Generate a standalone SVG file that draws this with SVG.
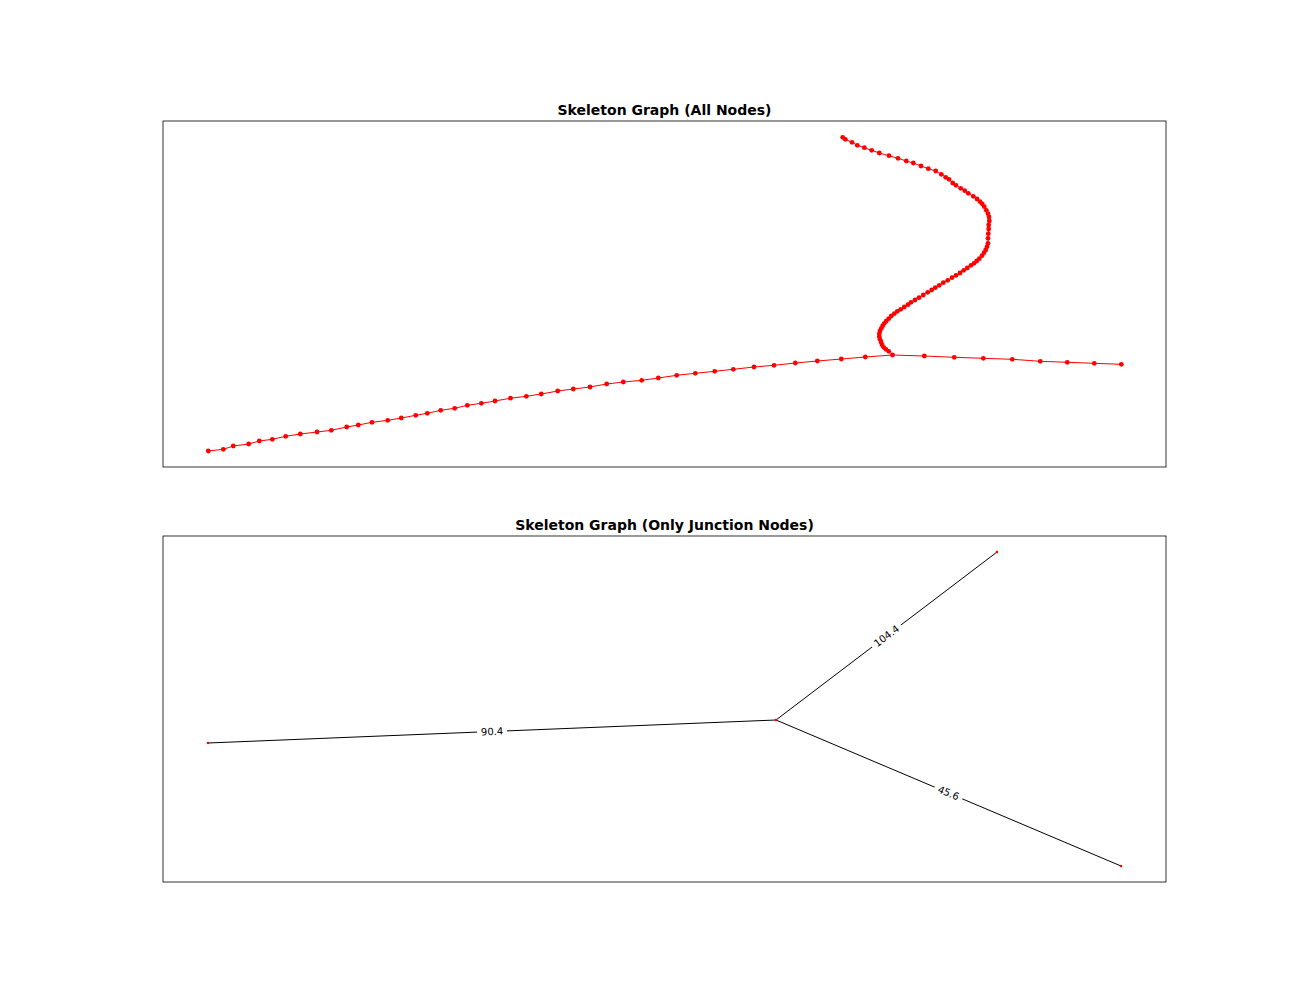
<svg xmlns="http://www.w3.org/2000/svg" width="1296" height="1008" viewBox="0 0 1296 1008">
<style>
.title{font-family:"DejaVu Sans",sans-serif;font-weight:bold;font-size:14px;text-anchor:middle;fill:#000}
.frame{fill:none;stroke:#000;stroke-width:0.8}
.redge{fill:none;stroke:#ff0000;stroke-width:1}
.bedge{fill:none;stroke:#000;stroke-width:1}
.lbl{font-family:"DejaVu Sans",sans-serif;font-size:10px;text-anchor:middle;dominant-baseline:central;fill:#000}
.lblbox{fill:#fff}
</style>
<defs>
<circle id="dot" r="2.4" fill="#ff0000"/>
<circle id="jdot" r="1.3" fill="#ff0000"/>
</defs>
<rect width="1296" height="1008" fill="#fff"/>

<g id="panel-top">
<text class="title" x="664.5" y="115">Skeleton Graph (All Nodes)</text>
<rect class="frame" x="163" y="121" width="1003" height="346"/>
<g id="edges-top">
<polyline class="redge" points="842.7,137.3 845.3,139.3 852,142.3 857.3,145.3 864.3,147.7 871.7,150.3 879.3,153 889,155.7 898,158.3 906.3,161 913.3,163 921,166 928.3,168.7 935.7,171 941.3,174.3 945.7,177.3 949,179.3 952.7,183 956,185.3 960.7,188.3 964.7,190.7 968.3,193.3 973.3,196.3 977,199 980,201.7 982.3,204 984.3,206.7 986.3,210.3 988,213.7 989,217 989.3,221 988.7,225 988.7,229 988.3,233.7 988,238.3 988,243.3 987,246.7 985.7,250 984,252.7 982,255.7 979.3,258.7 976.7,261 974,263.3 971,265.3 967.3,268 963.7,270.3 960,273 956,275.3 952,277.7 947.7,280.3 943.3,282.7 939.3,285.3 935.3,287.7 931.7,290 927.7,292.3 923.3,295 919,297.7 915,300 911,302.3 908,304.7 904.3,307 900.7,309.3 897.3,311.3 894.3,313.7 891.3,316 888.7,318.7 886.3,321 884.3,323.3 882.7,325.7 881.3,328.3 880,331 879.3,333.7 879.3,336.7 880,339.3 881,342 882,344.7 883.7,347.3 886,349.3 888.7,351.3 892.5,355"/>
<polyline class="redge" points="892.5,355 924.3,356 954.3,357.3 983.3,358.3 1012.3,359.3 1040.3,361.3 1067.3,362.3 1094.3,363.3 1121.3,364.3"/>
<polyline class="redge" points="892.5,355 865.3,357 841.3,359 817.3,361 795.3,363 774,365.3 754,367 733.3,369.3 714.7,371.3 695.3,373.3 676.7,375.3 658.3,378 641.7,380.3 623.3,382 606.7,384 590,387 573.3,389 557.7,391 541.3,394 526.3,396.3 510.5,398.2 495,401 481.3,403.3 467.3,405.3 454.7,408.3 440.7,410.3 427.3,413.3 415.7,415.3 401.3,418 387.7,420.3 372,422.3 358.3,425 346.7,427 331.3,430.3 317,432 300.3,434 285.7,436.3 272.3,439.3 259.3,441 248.7,444 233.3,446 223.3,449.3 208.3,451"/>
</g>
<g id="nodes-top">
<use href="#dot" x="842.7" y="137.3"/><use href="#dot" x="845.3" y="139.3"/><use href="#dot" x="852" y="142.3"/><use href="#dot" x="857.3" y="145.3"/><use href="#dot" x="864.3" y="147.7"/><use href="#dot" x="871.7" y="150.3"/><use href="#dot" x="879.3" y="153"/><use href="#dot" x="889" y="155.7"/><use href="#dot" x="898" y="158.3"/><use href="#dot" x="906.3" y="161"/><use href="#dot" x="913.3" y="163"/><use href="#dot" x="921" y="166"/><use href="#dot" x="928.3" y="168.7"/><use href="#dot" x="935.7" y="171"/><use href="#dot" x="941.3" y="174.3"/><use href="#dot" x="945.7" y="177.3"/><use href="#dot" x="949" y="179.3"/><use href="#dot" x="952.7" y="183"/><use href="#dot" x="956" y="185.3"/><use href="#dot" x="960.7" y="188.3"/><use href="#dot" x="964.7" y="190.7"/><use href="#dot" x="968.3" y="193.3"/><use href="#dot" x="973.3" y="196.3"/><use href="#dot" x="977" y="199"/><use href="#dot" x="980" y="201.7"/><use href="#dot" x="982.3" y="204"/><use href="#dot" x="984.3" y="206.7"/><use href="#dot" x="986.3" y="210.3"/><use href="#dot" x="988" y="213.7"/><use href="#dot" x="989" y="217"/><use href="#dot" x="989.3" y="221"/><use href="#dot" x="988.7" y="225"/><use href="#dot" x="988.7" y="229"/><use href="#dot" x="988.3" y="233.7"/><use href="#dot" x="988" y="238.3"/><use href="#dot" x="988" y="243.3"/><use href="#dot" x="987" y="246.7"/><use href="#dot" x="985.7" y="250"/><use href="#dot" x="984" y="252.7"/><use href="#dot" x="982" y="255.7"/><use href="#dot" x="979.3" y="258.7"/><use href="#dot" x="976.7" y="261"/><use href="#dot" x="974" y="263.3"/><use href="#dot" x="971" y="265.3"/><use href="#dot" x="967.3" y="268"/><use href="#dot" x="963.7" y="270.3"/><use href="#dot" x="960" y="273"/><use href="#dot" x="956" y="275.3"/><use href="#dot" x="952" y="277.7"/><use href="#dot" x="947.7" y="280.3"/><use href="#dot" x="943.3" y="282.7"/><use href="#dot" x="939.3" y="285.3"/><use href="#dot" x="935.3" y="287.7"/><use href="#dot" x="931.7" y="290"/><use href="#dot" x="927.7" y="292.3"/><use href="#dot" x="923.3" y="295"/><use href="#dot" x="919" y="297.7"/><use href="#dot" x="915" y="300"/><use href="#dot" x="911" y="302.3"/><use href="#dot" x="908" y="304.7"/><use href="#dot" x="904.3" y="307"/><use href="#dot" x="900.7" y="309.3"/><use href="#dot" x="897.3" y="311.3"/><use href="#dot" x="894.3" y="313.7"/><use href="#dot" x="891.3" y="316"/><use href="#dot" x="888.7" y="318.7"/><use href="#dot" x="886.3" y="321"/><use href="#dot" x="884.3" y="323.3"/><use href="#dot" x="882.7" y="325.7"/><use href="#dot" x="881.3" y="328.3"/><use href="#dot" x="880" y="331"/><use href="#dot" x="879.3" y="333.7"/><use href="#dot" x="879.3" y="336.7"/><use href="#dot" x="880" y="339.3"/><use href="#dot" x="881" y="342"/><use href="#dot" x="882" y="344.7"/><use href="#dot" x="883.7" y="347.3"/><use href="#dot" x="886" y="349.3"/><use href="#dot" x="888.7" y="351.3"/><use href="#dot" x="892.5" y="355"/>
<use href="#dot" x="924.3" y="356"/><use href="#dot" x="954.3" y="357.3"/><use href="#dot" x="983.3" y="358.3"/><use href="#dot" x="1012.3" y="359.3"/><use href="#dot" x="1040.3" y="361.3"/><use href="#dot" x="1067.3" y="362.3"/><use href="#dot" x="1094.3" y="363.3"/><use href="#dot" x="1121.3" y="364.3"/>
<use href="#dot" x="865.3" y="357"/><use href="#dot" x="841.3" y="359"/><use href="#dot" x="817.3" y="361"/><use href="#dot" x="795.3" y="363"/><use href="#dot" x="774" y="365.3"/><use href="#dot" x="754" y="367"/><use href="#dot" x="733.3" y="369.3"/><use href="#dot" x="714.7" y="371.3"/><use href="#dot" x="695.3" y="373.3"/><use href="#dot" x="676.7" y="375.3"/><use href="#dot" x="658.3" y="378"/><use href="#dot" x="641.7" y="380.3"/><use href="#dot" x="623.3" y="382"/><use href="#dot" x="606.7" y="384"/><use href="#dot" x="590" y="387"/><use href="#dot" x="573.3" y="389"/><use href="#dot" x="557.7" y="391"/><use href="#dot" x="541.3" y="394"/><use href="#dot" x="526.3" y="396.3"/><use href="#dot" x="510.5" y="398.2"/><use href="#dot" x="495" y="401"/><use href="#dot" x="481.3" y="403.3"/><use href="#dot" x="467.3" y="405.3"/><use href="#dot" x="454.7" y="408.3"/><use href="#dot" x="440.7" y="410.3"/><use href="#dot" x="427.3" y="413.3"/><use href="#dot" x="415.7" y="415.3"/><use href="#dot" x="401.3" y="418"/><use href="#dot" x="387.7" y="420.3"/><use href="#dot" x="372" y="422.3"/><use href="#dot" x="358.3" y="425"/><use href="#dot" x="346.7" y="427"/><use href="#dot" x="331.3" y="430.3"/><use href="#dot" x="317" y="432"/><use href="#dot" x="300.3" y="434"/><use href="#dot" x="285.7" y="436.3"/><use href="#dot" x="272.3" y="439.3"/><use href="#dot" x="259.3" y="441"/><use href="#dot" x="248.7" y="444"/><use href="#dot" x="233.3" y="446"/><use href="#dot" x="223.3" y="449.3"/><use href="#dot" x="208.3" y="451"/>
</g>
</g>

<g id="panel-bottom">
<text class="title" x="664.5" y="530">Skeleton Graph (Only Junction Nodes)</text>
<rect class="frame" x="163" y="536" width="1003" height="346"/>
<g id="connectors">
<line class="bedge" x1="208" y1="743" x2="776" y2="720"/>
<line class="bedge" x1="776" y1="720" x2="997" y2="552"/>
<line class="bedge" x1="776" y1="720" x2="1121" y2="866"/>
<g transform="translate(492,731.5) rotate(-2.3)"><rect class="lblbox" x="-15" y="-7" width="30" height="14" rx="2"/><text class="lbl" x="0" y="0">90.4</text></g>
<g transform="translate(886.5,636) rotate(-37.2)"><rect class="lblbox" x="-18" y="-7" width="36" height="14" rx="2"/><text class="lbl" x="0" y="0">104.4</text></g>
<g transform="translate(948.5,793) rotate(22.9)"><rect class="lblbox" x="-15" y="-7" width="30" height="14" rx="2"/><text class="lbl" x="0" y="0">45.6</text></g>
</g>
<g id="node-a"><use href="#jdot" x="208" y="743"/></g>
<g id="node-b"><use href="#jdot" x="776" y="720"/></g>
<g id="node-c"><use href="#jdot" x="997" y="552"/></g>
<g id="node-d"><use href="#jdot" x="1121" y="866"/></g>
</g>
</svg>
